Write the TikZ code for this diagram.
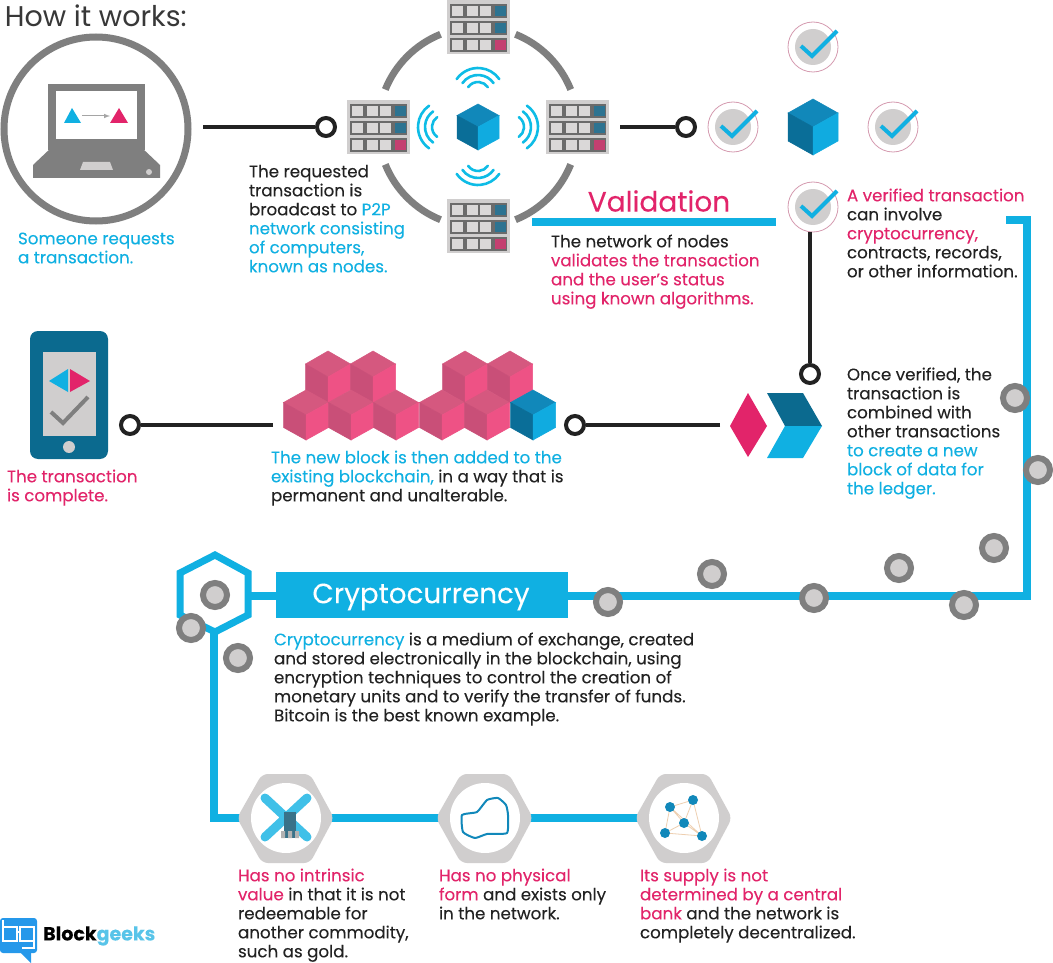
\documentclass[tikz,border=0pt]{standalone}
\usepackage{fontspec}
\setmainfont{Poppins}[FakeBold=0.12]
\newfontfamily\plainfont{Poppins}
\usetikzlibrary{calc}
\definecolor{bl}{HTML}{10B0E2}
\definecolor{pk}{HTML}{E2246A}
\definecolor{ink}{HTML}{222222}
\definecolor{gr}{HTML}{7F7F7F}
\definecolor{lg}{HTML}{D0CECE}
\definecolor{cbt}{HTML}{1188BA}
\definecolor{cbl}{HTML}{0A6E98}
\definecolor{cbr}{HTML}{10ABE0}
\definecolor{cpt}{HTML}{D5587F}
\definecolor{cpl}{HTML}{C94F78}
\definecolor{cpr}{HTML}{EE5285}
\definecolor{tl}{HTML}{0B6A8F}
\newcommand{\bt}[1]{\textcolor{bl}{#1}}
\newcommand{\pt}[1]{\textcolor{pk}{#1}}
\tikzset{
  txt/.style={anchor=north west,inner sep=0pt,outer sep=0pt,align=left,text=ink,
    font=\fontsize{16.7}{19}\selectfont},
  dotc/.style={circle,draw=ink,line width=4pt,fill=white,minimum size=18pt,inner sep=0pt},
  wire/.style={draw=ink,line width=4pt},
  blueline/.style={draw=bl,line width=8pt},
  wave/.style={draw=bl!85!cyan,line width=2.6pt,line cap=round},
  grayarc/.style={draw=gr,line width=7pt},
  bead/.style={circle,draw=gr,line width=6pt,fill=lg,minimum size=24pt,inner sep=0pt},
}
\newcommand{\cubeat}[7]{\begin{scope}[shift={(#1,#2)},line width=.5pt]
  \filldraw[#5] (0,{-#4})--(#3,{-#4/2})--(0,0)--({-#3},{-#4/2})--cycle;
  \filldraw[#6] ({-#3},{-#4/2})--(0,0)--(0,#4)--({-#3},{#4/2})--cycle;
  \filldraw[#7] (#3,{-#4/2})--(0,0)--(0,#4)--(#3,{#4/2})--cycle;
\end{scope}}
\newcommand{\srvrow}[2]{%
  \fill[black!58] (3,#1) rectangle (60,{#1+14});
  \fill[lg!80!white] (5,{#1+2}) rectangle (16,{#1+12});
  \fill[lg!80!white] (20,{#1+2}) rectangle (31,{#1+12});
  \fill[lg!80!white] (33,{#1+2}) rectangle (44,{#1+12});
  \fill[#2] (48,{#1+2}) rectangle (59,{#1+12});}
\newcommand{\serverat}[2]{\begin{scope}[shift={(#1,#2)}]
  \fill[lg] (0,0) rectangle (63,54);
  \srvrow{4}{cbl!70!gr}\srvrow{21}{cbl!70!gr}\srvrow{38}{pk!70!gr}
\end{scope}}
\newcommand{\checkat}[2]{\begin{scope}[shift={(#1,#2)}]
  \draw[lg!70!pk,line width=.8pt] (0,0) circle (25);
  \fill[lg] (0,0) circle (18);
  \draw[bl,line width=4pt] (-12,-1)--(-1,9)--(24,-16);
\end{scope}}
\newcommand{\hexat}[1]{\begin{scope}[shift={(#1,818)}]
  \fill[lg,rounded corners=6pt] (-49,0)--(-24,-44)--(24,-44)--(48,0)--(24,45)--(-24,45)--cycle;
  \fill[white] (0,0) circle (35);
\end{scope}}
\begin{document}
\begin{tikzpicture}[x=1pt,y=-1pt]
\path[use as bounding box,fill=white] (0,0) rectangle (1053,963);

\node[txt,font=\fontsize{28.5}{30}\selectfont\plainfont,text=ink!90] (title) at (5,5) {\strut How it works:};

% laptop circle
\draw[gr,line width=7pt] (96,129) circle (92);
\fill[gr] (48,84) rectangle (145,150);
\fill[white] (56,91) rectangle (137,139);
\fill[gr] (52,147)--(141,147)--(160,165)--(160,178)--(33,178)--(33,165)--cycle;
\fill[lg] (83,162)--(110,162)--(113,170)--(80,170)--cycle;
\fill[lg] (149,172) circle (3);
\fill[bl] (72,108)--(81,123)--(64,123)--cycle;
\fill[pk] (119,108)--(128,123)--(110,123)--cycle;
\draw[gr!70,line width=1pt,-latex] (82,116)--(110,116);

\coordinate (w1) at (203,127);
\node[dotc] (d1) at (326,127) {};
\draw[wire] (w1)--(d1);

% network ring
\coordinate (ringc) at (478,127);
\foreach \a in {22,112,202,292}
  \draw[grayarc] ($(ringc)+(\a:100)$) arc[start angle=\a,delta angle=46,radius=100];
\serverat{447}{0}
\serverat{347}{100}
\serverat{546}{100}
\serverat{447}{199}
\cubeat{478}{127}{21}{23}{cbt}{cbl}{cbr}
\foreach \r in {12,19,26}{
  \draw[wave] ($(478,94)+(215:\r)$) arc[start angle=215,end angle=325,radius=\r];
  \draw[wave] ($(478,159)+(145:\r)$) arc[start angle=145,end angle=35,radius=\r];
  \draw[wave] ($(444,127)+(125:\r)$) arc[start angle=125,end angle=235,radius=\r];
  \draw[wave] ($(512,127)+(-55:\r)$) arc[start angle=-55,end angle=55,radius=\r];
}

\node[txt] (t1) at (18,231) {\strut\bt{Someone requests}\\\bt{a transaction.}};
\node[txt] (t2) at (249,164) {\strut The requested\\transaction is\\broadcast to \bt{P2P}\\\bt{network consisting}\\\bt{of computers,}\\\bt{known as nodes.}};

% validation
\coordinate (w2) at (620,127);
\node[dotc] (d2) at (686,127) {};
\draw[wire] (w2)--(d2);
\checkat{813}{47}
\checkat{733}{127}
\checkat{893}{127}
\checkat{813}{207}
\cubeat{813}{127}{25}{28}{cbt}{cbl}{cbr}
\node[anchor=center,inner sep=0pt,text=pk,font=\fontsize{28}{32}\selectfont] (val) at (659,201) {Validation};
\fill[bl] (532,218) rectangle (776,226);
\node[txt] (t3) at (551,234) {\strut The network of nodes\\\pt{validates the transaction}\\\pt{and the user's status}\\\pt{using known algorithms.}};
\node[txt] (t4) at (847,188) {\strut\pt{A verified transaction}\\can involve\\\pt{cryptocurrency,}\\contracts, records,\\or other information.};

\coordinate (w3) at (810,232);
\node[dotc] (d3) at (810,374) {};
\draw[wire] (w3)--(d3);

% chevrons
\fill[pk] (748,393)--(767,426)--(748,457)--(730,426)--cycle;
\fill[tl] (767,393)--(803,393)--(822,426)--(785,426)--cycle;
\fill[bl] (785,426)--(822,426)--(803,458)--(767,458)--cycle;
\node[txt] (t5) at (847,367) {\strut Once verified, the\\transaction is\\combined with\\other transactions\\\bt{to create a new}\\\bt{block of data for}\\\bt{the ledger.}};

\coordinate (w4) at (720,425);
\node[dotc] (d4) at (575,425) {};
\draw[wire] (w4)--(d4);

% blockchain
\foreach \x in {328,373,465,510} {\cubeat{\x}{377}{22.5}{26}{cpt}{cpl}{cpr}}
\foreach \x in {306,351,396,442,487} {\cubeat{\x}{415}{22.5}{25}{cpt}{cpl}{cpr}}
\cubeat{533}{415}{22.5}{25}{cbt}{cbl}{cbr}
\node[txt] (t6) at (271,450) {\strut\bt{The new block is then added to the}\\\bt{existing blockchain,} in a way that is\\permanent and unalterable.};

\coordinate (w5) at (273,425);
\node[dotc] (d5) at (130,425) {};
\draw[wire] (w5)--(d5);

% phone
\fill[tl,rounded corners=8pt] (30,331) rectangle (108,459);
\fill[lg] (43,352) rectangle (96,436);
\fill[bl] (49,381)--(68,369)--(68,392)--cycle;
\fill[pk] (70,369)--(90,381)--(70,392)--cycle;
\draw[gr,line width=4pt] (51,412)--(63,423)--(88,397);
\fill[lg] (69,447) circle (6);
\node[txt] (t7) at (7,469) {\strut\pt{The transaction}\\\pt{is complete.}};

% long blue path
\coordinate (p0) at (1006,220);
\coordinate (p1) at (1027,220);
\coordinate (p2) at (1027,596);
\coordinate (p3) at (248,596);
\draw[blueline,line join=miter] (p0)--(p1)--(p2)--(p3);
\node[inner sep=0pt,minimum width=292pt,minimum height=46pt,fill=bl] (crypto) at (422,595) {};
\node[inner sep=0pt,text=white,font=\fontsize{27.8}{30}\selectfont] (cryptot) at (421,597) {Cryptocurrency};

% top hexagon
\draw[bl,line width=7pt,line join=miter] (215,555)--(248,573)--(248,615)--(215,632)--(180,615)--(180,573)--cycle;
\coordinate (q0) at (214,632);
\coordinate (q1) at (214,818);
\coordinate (q2) at (684,818);
\draw[blueline,line join=miter] (q0)--(q1)--(q2);

% beads
\foreach \n/\x/\y in {a/1015/398,b/1038/470,c/994/548,e/899/568,f/964/605,g/814/598,h/712/574,i/608/602,j/215/595,k/191/628,l/238/658}
  \node[bead] (b\n) at (\x,\y) {};

\node[txt] (t8) at (274,632) {\strut\bt{Cryptocurrency} is a medium of exchange, created\\and stored electronically in the blockchain, using\\encryption techniques to control the creation of\\monetary units and to verify the transfer of funds.\\Bitcoin is the best known example.};

% bottom icons
\hexat{286}
\hexat{485}
\hexat{684}
\draw[line width=9pt,bl!80!white,line cap=round] (265,798)--(307,837) (307,798)--(265,837);
\fill[tl!60!gr] (284,812) rectangle (296,838);
\fill[gr!60] (281,831) rectangle (285,838) (288,831) rectangle (292,838) (295,831) rectangle (299,838);
\draw[cbt,line width=2pt,line join=round] plot[smooth cycle,tension=.3] coordinates {(462,815) (477,812) (487,800) (498,798) (506,805) (508,815) (507,833) (487,834) (475,838) (463,832)};
\draw[lg!60!orange!60,line width=.8pt] (670,807)--(693,800)--(702,836)--(665,833)--cycle (670,807)--(684,823)--(693,800) (684,823)--(665,833) (684,823)--(702,836) (670,807)--(702,836);
\foreach \x/\y in {670/807,693/800,684/823,665/833,702/836} \fill[cbt] (\x,\y) circle (5);

\node[txt] (t9) at (238,868) {\strut\pt{Has no intrinsic}\\\pt{value} in that it is not\\redeemable for\\another commodity,\\such as gold.};
\node[txt] (t10) at (439,868) {\strut\pt{Has no physical}\\\pt{form} and exists only\\in the network.};
\node[txt] (t11) at (640,868) {\strut\pt{Its supply is not}\\\pt{determined by a central}\\\pt{bank} and the network is\\completely decentralized.};

% logo
\fill[bl!80!blue!90,rounded corners=3pt] (0,918) rectangle (37,953);
\fill[bl!80!blue!90] (18,950)--(31,950)--(31,963)--cycle;
\draw[white,line width=1.5pt] (3,927) rectangle (17,941) (20,927) rectangle (34,941) (17,932)--(20,932) (3,920)--(3,927) (34,941)--(34,948)--(22,948);
\node[anchor=west,inner sep=0pt,font=\fontsize{19}{22}\selectfont\bfseries] (logo) at (43,936) {\textcolor{black}{Block}\textcolor{cbr!70!white}{geeks}};
\end{tikzpicture}
\end{document}
